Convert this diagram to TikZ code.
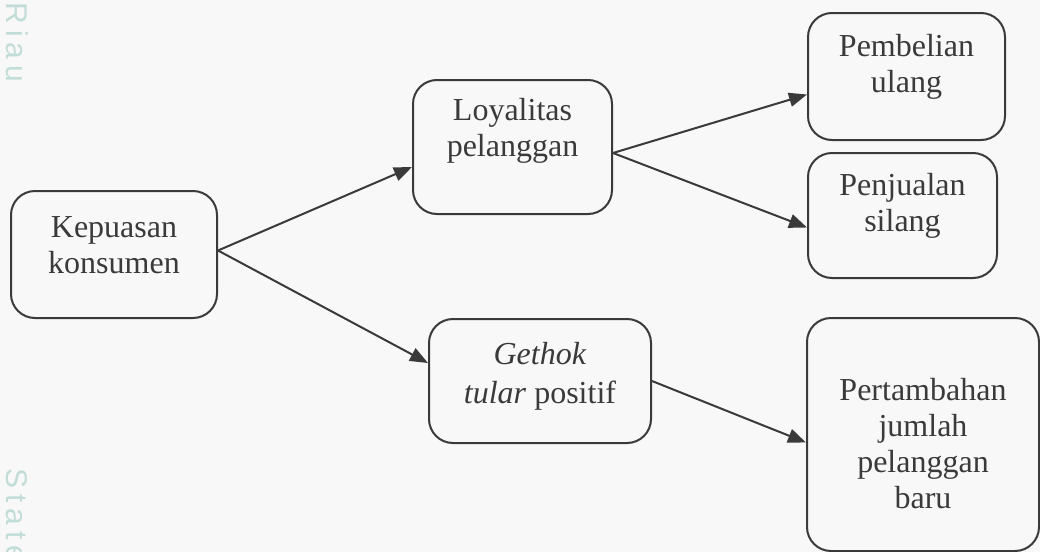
\documentclass[tikz,border=0pt]{standalone}
\usepackage{fontspec}
\setmainfont{Liberation Serif}
\newfontfamily\wmfont[LetterSpace=20]{Liberation Sans}
\usetikzlibrary{arrows.meta}
\definecolor{garis}{HTML}{3A3A3A}
\definecolor{latar}{HTML}{F8F8F8}
\definecolor{tanda}{HTML}{C2DDD7}
\tikzset{
    every node/.style={inner sep=0mm, text=garis, align=center, font=\fontsize{16}{18}\selectfont}
}
\tikzset{kotak/.style={draw=garis, line width=1pt, rounded corners=12pt}}
\tikzset{panah/.style={draw=garis, line width=1pt, -{Triangle[length=9pt,width=7pt]}}}
\tikzset{tulisan/.style={rotate=-90, anchor=south west, text=tanda, font=\wmfont\fontsize{15}{15}\selectfont}}

\begin{document}
\begin{tikzpicture}[x=0.5pt, y=-0.5pt]
    \fill[latar] (0,0) rectangle (1040,552);
    \useasboundingbox (0,0) rectangle (1040,552);

    \node (riau) [tulisan] at (6, 2) {Riau};
    \node (state) [tulisan] at (6, 468) {State};

    \node (kepuasan) [kotak, minimum width=103pt, minimum height=63.5pt,
        label={[yshift=4.5pt]center:{Kepuasan\\konsumen}}] at (114, 254.5) {};
    \node (loyalitas) [kotak, minimum width=99.5pt, minimum height=67pt,
        label={[yshift=8pt]center:{Loyalitas\\pelanggan}}] at (512.5, 147) {};
    \node (gethok) [kotak, minimum width=111pt, minimum height=62pt,
        label={[yshift=2.5pt]center:{\textit{Gethok}\\[1.5pt]\textit{tular} positif}}] at (540, 381) {};
    \node (pembelian) [kotak, minimum width=98.5pt, minimum height=63.5pt,
        label={[yshift=5pt]center:{Pembelian\\ulang}}] at (906.5, 76.5) {};
    \node (penjualan) [kotak, minimum width=94.5pt, minimum height=62.5pt,
        label={[yshift=5pt]center:{Penjualan\\silang}}] at (902.5, 215.5) {};
    \node (pertambahan) [kotak, minimum width=116pt, minimum height=116.5pt,
        label={[yshift=-4.5pt]center:{Pertambahan\\jumlah\\pelanggan\\baru}}] at (923, 434.5) {};

    \draw[panah] ([yshift=2pt]kepuasan.east) -- ([yshift=-10pt]loyalitas.west);
    \draw[panah] ([yshift=2pt]kepuasan.east) -- ([yshift=9pt]gethok.west);
    \draw[panah] ([yshift=-3pt]loyalitas.east) -- ([yshift=-9pt]pembelian.west);
    \draw[panah] ([yshift=-3pt]loyalitas.east) -- ([yshift=-6pt]penjualan.west);
    \draw[panah] (gethok.east) -- ([yshift=-4pt]pertambahan.west);
\end{tikzpicture}
\end{document}
